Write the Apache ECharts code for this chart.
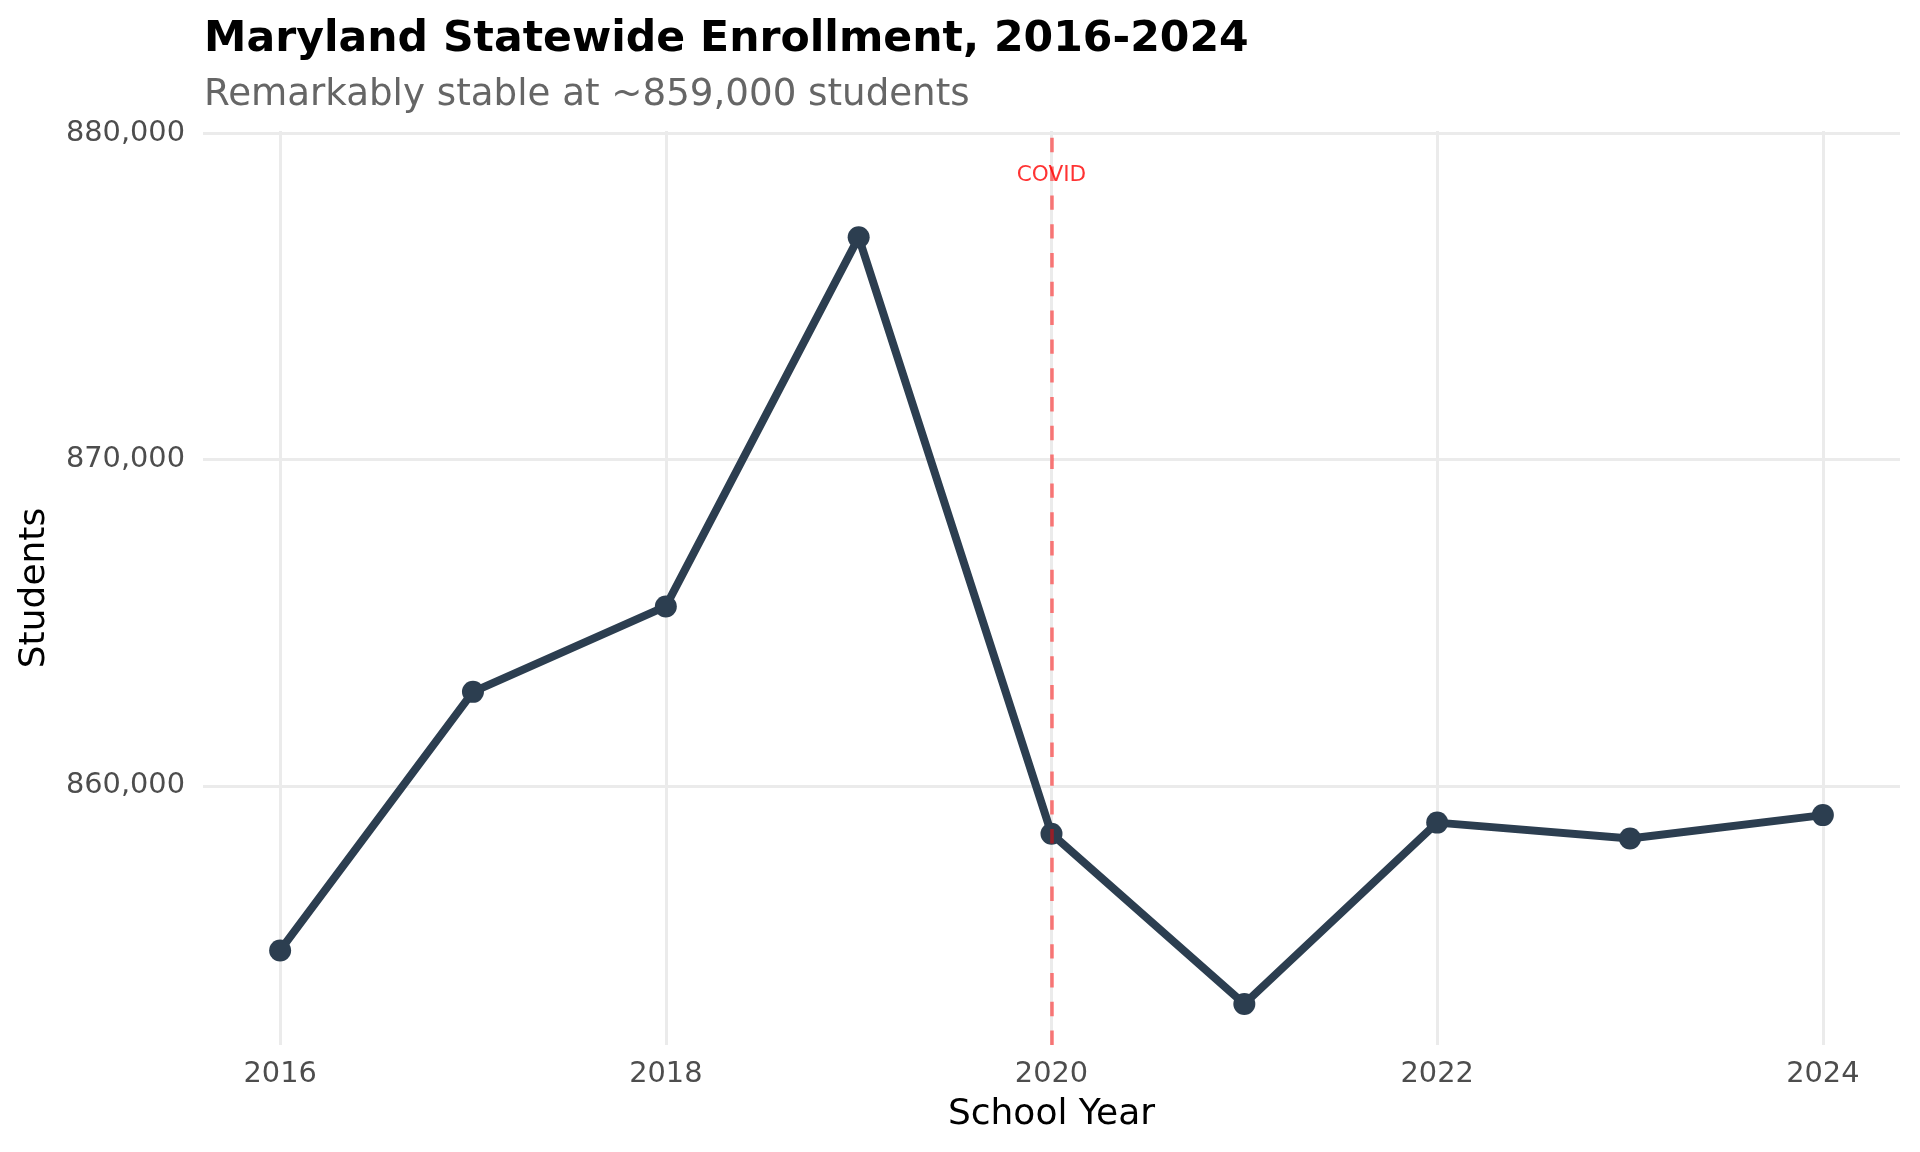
<!DOCTYPE html>
<html>
<head>
<meta charset="utf-8">
<script src="https://cdn.jsdelivr.net/npm/echarts@6/dist/echarts.min.js"></script>
<style>
html, body { margin: 0; padding: 0; background: #ffffff; }
#chart { width: 1920px; height: 1152px; }
</style>
</head>
<body>
<div id="chart"></div>
<script>
// ---- data ----
const years = [2016, 2017, 2018, 2019, 2020, 2021, 2022, 2023, 2024];
const enrollment = [854950, 862880, 865500, 876820, 858530, 853310, 858870, 858380, 859100];
const xTicks = [2016, 2018, 2020, 2022, 2024];
const yTicks = [860000, 870000, 880000];
const covidYear = 2020;
const covidLabel = 'COVID';
const covidLabelY = 878720;
const titleText = 'Maryland Statewide Enrollment, 2016-2024';
const subtitleText = 'Remarkably stable at ~859,000 students';
const xAxisTitle = 'School Year';
const yAxisTitle = 'Students';

const FONT = 'DejaVu Sans';
const chart = echarts.init(document.getElementById('chart'), null, { renderer: 'canvas' });

const fmtNum = v => v.toLocaleString('en-US');

chart.setOption({
  animation: false,
  backgroundColor: '#ffffff',
  title: [
    { text: titleText, left: 199, top: 13,
      textStyle: { fontFamily: FONT, fontSize: 42.6, fontWeight: 'bold', color: '#000000' } },
    { text: subtitleText, left: 199, top: 72,
      textStyle: { fontFamily: FONT, fontSize: 37.2, fontWeight: 'normal', color: '#666666' } }
  ],
  grid: { left: 203, right: 20, top: 131, bottom: 107, containLabel: false },
  xAxis: {
    type: 'value',
    min: 2015.6, max: 2024.4, splitNumber: 4,
    name: xAxisTitle, nameLocation: 'middle', nameGap: 52,
    nameTextStyle: { fontFamily: FONT, fontSize: 36, color: '#000000' },
    axisLine: { show: false }, axisTick: { show: false },
    axisLabel: {
      fontFamily: FONT, fontSize: 28.8, color: '#4D4D4D', margin: 15,
      showMinLabel: false, showMaxLabel: false,
      formatter: v => xTicks.includes(Math.round(v * 1000) / 1000) ? String(v) : ''
    },
    splitLine: { show: true, showMinLine: false, showMaxLine: false,
      lineStyle: { color: '#EBEBEB', width: 3 } }
  },
  yAxis: {
    type: 'value',
    min: 852050, max: 880080, splitNumber: 3,
    name: yAxisTitle, nameLocation: 'middle', nameGap: 150,
    nameTextStyle: { fontFamily: FONT, fontSize: 36, color: '#000000' },
    axisLine: { show: false }, axisTick: { show: false },
    axisLabel: {
      fontFamily: FONT, fontSize: 28.8, color: '#4D4D4D', margin: 18,
      showMinLabel: false, showMaxLabel: false,
      formatter: v => yTicks.includes(v) ? fmtNum(v) : ''
    },
    splitLine: { show: true, showMinLine: false, showMaxLine: false,
      lineStyle: { color: '#EBEBEB', width: 3 } }
  },
  series: [
    {
      type: 'line',
      data: years.map((y, i) => [y, enrollment[i]]),
      symbol: 'circle', symbolSize: 22,
      lineStyle: { color: '#2C3E50', width: 8 },
      itemStyle: { color: '#2C3E50' },
      z: 3
    },
    {
      type: 'line',
      data: [],
      z: 5,
      markLine: {
        silent: true, symbol: 'none', animation: false,
        label: { show: false },
        lineStyle: { color: 'rgba(255,0,0,0.5)', width: 3.6, type: [14.4, 14.4] },
        data: [{ xAxis: covidYear }]
      }
    },
    {
      type: 'scatter',
      data: [[covidYear, covidLabelY]],
      symbolSize: 0,
      z: 6,
      label: { show: true, position: 'inside', formatter: covidLabel,
        fontFamily: FONT, fontSize: 21.6, color: '#FF0000' }
    }
  ]
});
</script>
</body>
</html>
